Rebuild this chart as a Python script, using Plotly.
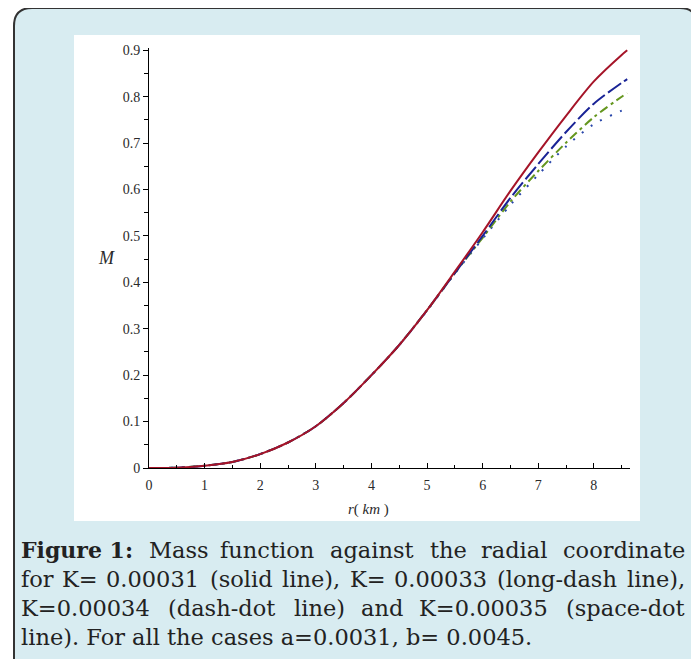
import plotly.graph_objects as go

# ---- data ----
r = [0, 0.5, 1, 1.5, 2, 2.5, 3, 3.5, 4, 4.5, 5, 5.5, 6, 6.5, 7, 7.5, 8, 8.5, 8.6]
M_k31 = [0, 0.0007, 0.005, 0.013, 0.03, 0.055, 0.09, 0.14, 0.2, 0.265, 0.34, 0.423, 0.508, 0.597, 0.68, 0.759, 0.833, 0.89, 0.9]
M_k33 = [0, 0.0007, 0.005, 0.013, 0.03, 0.055, 0.09, 0.14, 0.2, 0.265, 0.34, 0.42, 0.5, 0.582, 0.655, 0.724, 0.785, 0.83, 0.838]
M_k34 = [0, 0.0007, 0.005, 0.013, 0.03, 0.055, 0.09, 0.14, 0.2, 0.265, 0.34, 0.42, 0.496, 0.574, 0.64, 0.701, 0.756, 0.8, 0.808]
M_k35 = [0, 0.0007, 0.005, 0.013, 0.03, 0.055, 0.09, 0.14, 0.2, 0.265, 0.339, 0.419, 0.494, 0.567, 0.632, 0.693, 0.741, 0.77, 0.775]
x_ticks = [0, 1, 2, 3, 4, 5, 6, 7, 8]
y_ticks = [0, 0.1, 0.2, 0.3, 0.4, 0.5, 0.6, 0.7, 0.8, 0.9]
caption_title = "Figure 1:"
caption_lines = [
    "Mass function against the radial coordinate",
    "for K= 0.00031 (solid line), K= 0.00033 (long-dash line),",
    "K=0.00034 (dash-dot line) and K=0.00035 (space-dot",
    "line). For all the cases a=0.0031, b= 0.0045.",
]

# page-pixel layout (plotly page has an 8px body margin)
OFF = 8
W, H = 699, 659
PL, PR, PT, PB = 149, 630, 48, 468      # plot area in page pixels
L, R, T, B = PL - OFF, W - (PR - OFF), PT - OFF, H - (PB - OFF)
PW, PH = W - L - R, H - T - B


def px(x):
    return (x - OFF - L) / PW


def py(y):
    return (H - B - (y - OFF)) / PH


# approximate DejaVu Serif advance widths (units per 2048 em) for justification
CW = {" ": 651, "(": 799, ")": 799, ",": 651, "-": 739, ".": 651, ":": 690, "=": 1716,
      "F": 1343, "K": 1484, "M": 1765,
      "a": 1221, "b": 1311, "c": 1149, "d": 1311, "e": 1212, "f": 739, "g": 1311, "h": 1311,
      "i": 655, "k": 1249, "l": 655, "m": 1966, "n": 1311, "o": 1233, "p": 1311, "r": 979,
      "s": 1067, "t": 821, "u": 1311, "y": 1188}


def tw(s, size):
    return 1.03 * sum(CW.get(c, 1303) for c in s) * size / 2048.0


fig = go.Figure()
series = [
    (M_k35, "rgb(40,70,170)", "2px,9px", 2),
    (M_k34, "rgb(100,150,30)", "9px,4px,3px,4px", 2),
    (M_k33, "rgb(25,35,150)", "16px,4px", 2),
    (M_k31, "rgb(165,20,40)", "solid", 2),
]
for ys, col, dash, w in series:
    fig.add_trace(go.Scatter(x=r, y=ys, mode="lines",
                             line=dict(color=col, dash=dash, width=w, shape="spline", smoothing=0.8),
                             showlegend=False, hoverinfo="skip"))

tickfont = dict(family="Liberation Serif", size=14, color="#2a2a2a")
fig.update_xaxes(range=[0, 8.65], tickvals=x_ticks, ticktext=[str(v) for v in x_ticks],
                 showline=True, linecolor="black", linewidth=1, showgrid=False, zeroline=False,
                 ticks="inside", ticklen=5, tickcolor="black", tickfont=tickfont, ticklabelstandoff=4,
                 minor=dict(ticks="inside", ticklen=3, dtick=0.5, tick0=0, tickcolor="black", showgrid=False))
fig.update_yaxes(range=[0, 0.905], tickvals=y_ticks, ticktext=[("%g" % v) for v in y_ticks],
                 showline=True, linecolor="black", linewidth=1, showgrid=False, zeroline=False,
                 ticks="outside", ticklen=5, tickcolor="black", tickfont=tickfont,
                 minor=dict(ticks="outside", ticklen=4, dtick=0.05, tick0=0, tickcolor="black", showgrid=False))

shapes = [
    dict(type="path", xref="paper", yref="paper", layer="below",
         path=(f"M {px(14)},{py(700)} L {px(14)},{py(26)} Q {px(14)},{py(8)} {px(32)},{py(8)} "
               f"L {px(680)},{py(8)} Q {px(697)},{py(8)} {px(697)},{py(26)} L {px(697)},{py(700)} Z"),
         fillcolor="#d8ecf1", line=dict(color="#333333", width=2)),
    dict(type="rect", xref="paper", yref="paper", layer="below",
         x0=px(74), x1=px(640), y0=py(521), y1=py(35), fillcolor="white", line=dict(width=0)),
]

annotations = [
    dict(text="<i>M</i>", x=px(96), y=py(258), xref="paper", yref="paper", showarrow=False,
         font=dict(family="Liberation Serif", size=18, color="#2a2a2a")),
    dict(text="<i>r</i>( <i>km</i> )", x=px(368), y=py(509), xref="paper", yref="paper", showarrow=False,
         yanchor="middle", font=dict(family="Liberation Serif", size=15, color="#2a2a2a")),
]

# caption: lines 1-3 justified between x=19 and x=687, last line left-aligned
FS, FSB = 22.5, 22
X0, X1 = 19, 687
line_y = [550, 579, 608, 637]
cfont = dict(family="DejaVu Serif", size=FS, color="#222222")
for li, (txt, yy) in enumerate(zip(caption_lines, line_y)):
    words = txt.split(" ")
    items = [(w, tw(w, FS)) for w in words]
    start = X0
    if li == 0:
        bw = 114.0
        annotations.append(dict(text="<b>%s</b>" % caption_title, x=px(X0), y=py(yy), xref="paper",
                                yref="paper", xanchor="left", yanchor="middle", showarrow=False,
                                font=dict(family="DejaVu Serif", size=FSB, color="#222222")))
        start = X0 + bw
        gaps = len(words)
    else:
        gaps = len(words) - 1
    if li < 3:
        total = sum(it[1] for it in items)
        gap = (X1 - start - total) / gaps
        xx = start + (gap if li == 0 else 0)
        for i, (w, wd) in enumerate(items):
            last = i == len(items) - 1
            annotations.append(dict(text=w, x=px(X1 if last else xx), y=py(yy), xref="paper", yref="paper",
                                    xanchor="right" if last else "left", yanchor="middle",
                                    showarrow=False, font=cfont))
            xx += wd + gap
    else:
        annotations.append(dict(text=txt, x=px(X0), y=py(yy), xref="paper", yref="paper",
                                xanchor="left", yanchor="middle", showarrow=False, font=cfont))

fig.update_layout(width=W, height=H, margin=dict(l=L, r=R, t=T, b=B, pad=0),
                  paper_bgcolor="white", plot_bgcolor="white",
                  shapes=shapes, annotations=annotations)
fig.write_html("out.html")
